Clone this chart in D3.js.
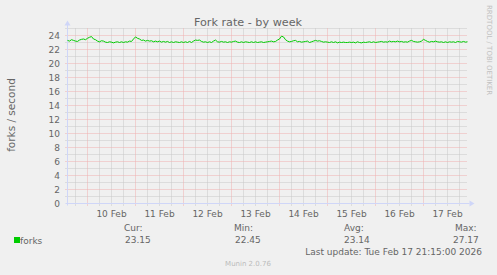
<!DOCTYPE html>
<html><head><meta charset="utf-8">
<script src="https://cdn.jsdelivr.net/npm/d3@7"></script>
<style>
html,body{margin:0;padding:0;background:#f0f0f0;}
svg{display:block;font-family:"DejaVu Sans",sans-serif;}
</style></head>
<body>
<svg id="c" width="497" height="275"></svg>
<script>
// ---- data ----
const title = "Fork rate - by week";
const yLabel = "forks / second";
const seriesName = "forks";
const startTime = Date.UTC(2026, 1, 9, 14, 0);   // left edge of plot
const endTime = Date.UTC(2026, 1, 17, 22, 0);    // right edge of plot
const stepHours = 1;
const forks = [
  23.3, 23.2, 23.4, 23.3, 23.2, 23.15, 23.35, 23.45, 23.5, 23.4,
  23.6, 23.75, 23.85, 23.5, 23.4, 23.2, 23.1, 23.25, 23.2, 23.05,
  23.0, 23.1, 23.05, 22.95, 23.05, 23.1, 23.0, 23.1, 23.0, 23.1,
  23.05, 23.2, 23.15, 23.5, 23.8, 23.6, 23.5, 23.3, 23.35, 23.2,
  23.3, 23.2, 23.25, 23.1, 23.2, 23.1, 23.2, 23.05, 23.15, 23.05,
  23.15, 23.0, 23.1, 23.0, 23.1, 23.05, 23.0, 23.1, 23.0, 23.1,
  23.0, 23.15, 23.0, 23.2, 23.35, 23.3, 23.35, 23.15, 23.05, 23.1,
  23.0, 23.1, 23.0, 23.2, 23.35, 23.1, 23.05, 23.15, 23.05, 23.1,
  23.0, 23.1, 23.05, 23.15, 23.2, 23.05, 23.0, 23.1, 23.0, 23.1,
  23.05, 23.0, 23.1, 23.0, 23.1, 23.0, 23.05, 23.1, 23.0, 23.05,
  23.1, 23.15, 23.2, 23.1, 23.15, 23.35, 23.5, 23.9, 23.8, 23.4,
  23.2, 23.1, 23.15, 23.25, 23.3, 23.1, 23.15, 23.05, 23.1, 23.15,
  23.2, 23.0, 23.1, 23.2, 23.3, 23.2, 23.25, 23.15, 23.05, 23.1,
  23.05, 23.0, 23.1, 23.0, 23.1, 22.95, 23.05, 23.0, 23.05, 23.0,
  23.0, 23.05, 23.0, 23.05, 22.95, 23.1, 23.0, 22.95, 23.05, 23.0,
  23.05, 23.1, 23.0, 23.1, 23.0, 23.05, 23.1, 23.15, 23.05, 23.1,
  23.05, 23.2, 23.1, 23.15, 23.1, 23.2, 23.1, 23.15, 23.05, 23.1,
  23.05, 23.2, 23.3, 23.15, 23.1, 23.05, 23.1, 23.2, 23.45, 23.3,
  23.15, 23.05, 23.15, 23.1, 23.2, 23.1, 23.05, 23.1, 23.0, 23.1,
  23.0, 23.1, 23.05, 23.1, 23.0, 23.15, 23.1, 23.05, 23.15, 23.05,
  23.1
];
const yTicks = [0, 2, 4, 6, 8, 10, 12, 14, 16, 18, 20, 22, 24];
const legendHeads = ["Cur:", "Min:", "Avg:", "Max:"];
const legendValues = ["23.15", "22.45", "23.14", "27.17"];
const lastUpdate = "Last update: Tue Feb 17 21:15:00 2026";
const version = "Munin 2.0.76";
const watermark = "RRDTOOL / TOBI OETIKER";

// ---- drawing ----
const svg = d3.select("#c");
const L = 67.5, R = 467.5, T = 28.5, B = 203.5;
const x = d3.scaleUtc().domain([startTime, endTime]).range([L, R]);
const y = d3.scaleLinear().domain([0, 25]).range([B, T]);
const fontCol = "#666666", axisCol = "#cfd6f8";
const gridCol = "#c8c8c8", mgridCol = "#f0b0b0";

svg.append("rect").attr("width",497).attr("height",275).attr("fill","#f0f0f0");

const g = svg.append("g");
// minor horizontal grid (every 1)
d3.range(1, 26).filter(v => v % 2 === 1).forEach(v => {
  g.append("line").attr("x1", L-2).attr("x2", R).attr("y1", y(v)).attr("y2", y(v))
   .attr("stroke", gridCol).attr("stroke-dasharray","1,1");
});
// minor vertical grid (every 6h)
const minorT = d3.utcHour.every(6).range(new Date(startTime), new Date(endTime+1))
  .filter(d => d.getUTCHours() !== 0);
minorT.forEach(d => {
  g.append("line").attr("x1", x(d)).attr("x2", x(d)).attr("y1", T).attr("y2", B+2)
   .attr("stroke", gridCol).attr("stroke-dasharray","1,1");
});
// major horizontal grid
yTicks.forEach(v => {
  if (v === 0) return;
  g.append("line").attr("x1", L-2).attr("x2", R).attr("y1", y(v)).attr("y2", y(v))
   .attr("stroke", mgridCol).attr("stroke-dasharray","1,1");
});
// major vertical grid (midnight)
const majorT = d3.utcDay.range(new Date(startTime), new Date(endTime));
majorT.forEach(d => {
  g.append("line").attr("x1", x(d)).attr("x2", x(d)).attr("y1", T).attr("y2", B+2)
   .attr("stroke", mgridCol).attr("stroke-dasharray","1,1");
});

// y tick labels
yTicks.forEach(v => {
  svg.append("text").attr("x", 60).attr("y", y(v)+3.5).attr("text-anchor","end")
    .attr("font-size", 9).attr("fill", fontCol).text(v);
});
// x labels at noon
const fmt = d3.utcFormat("%-d %b");
majorT.forEach(d => {
  const noon = d3.utcHour.offset(d, 12);
  if (+noon > endTime) return;
  svg.append("text").attr("x", x(noon)).attr("y", 217).attr("text-anchor","middle")
    .attr("font-size", 9).attr("fill", fontCol).text(fmt(noon));
});

// axes
svg.append("line").attr("x1", L).attr("x2", L).attr("y1", B+2).attr("y2", T-4)
  .attr("stroke", axisCol);
svg.append("line").attr("x1", L-2).attr("x2", R+2).attr("y1", B).attr("y2", B)
  .attr("stroke", axisCol);
svg.append("path").attr("d", `M${L-3},${T-3} L${L+3},${T-3} L${L},${T-8} Z`).attr("fill", axisCol);
svg.append("path").attr("d", `M${R+2},${B-3} L${R+2},${B+3} L${R+7},${B} Z`).attr("fill", axisCol);

// line
const line = d3.line()
  .x((d, i) => x(startTime + i*stepHours*3600e3))
  .y(d => y(d));
svg.append("path").datum(forks).attr("d", line).attr("fill","none")
  .attr("stroke","#00cc00").attr("stroke-width",1);

// title
svg.append("text").attr("x", 248).attr("y", 26).attr("text-anchor","middle")
  .attr("font-size", 11.2).attr("fill", fontCol).text(title);
// y label
svg.append("text").attr("transform","translate(15,115) rotate(-90)").attr("text-anchor","middle")
  .attr("font-size", 10.5).attr("fill", fontCol).text(yLabel);
// watermark
svg.append("text").attr("transform","translate(487,5) rotate(90)").attr("text-anchor","start")
  .attr("font-size", 7).attr("fill", "#c0c0c0").text(watermark);

// legend
svg.append("rect").attr("x",14).attr("y",237).attr("width",6).attr("height",6).attr("fill","#00cc00");
svg.append("text").attr("x",20).attr("y",244).attr("font-size",9).attr("fill",fontCol).text(seriesName);
const headX = [124, 234, 344, 455];
const valX = [125, 235, 344, 453];
legendHeads.forEach((h, i) => {
  svg.append("text").attr("x", headX[i]).attr("y", 231).attr("font-size",9).attr("fill",fontCol).text(h);
  svg.append("text").attr("x", valX[i]).attr("y", 243).attr("font-size",9).attr("fill",fontCol).text(legendValues[i]);
});
svg.append("text").attr("x", 482).attr("y", 255).attr("text-anchor","end")
  .attr("font-size",9).attr("fill",fontCol).text(lastUpdate);
svg.append("text").attr("x", 248).attr("y", 266).attr("text-anchor","middle")
  .attr("font-size",7).attr("fill","#bbbbbb").text(version);
</script>
</body></html>
